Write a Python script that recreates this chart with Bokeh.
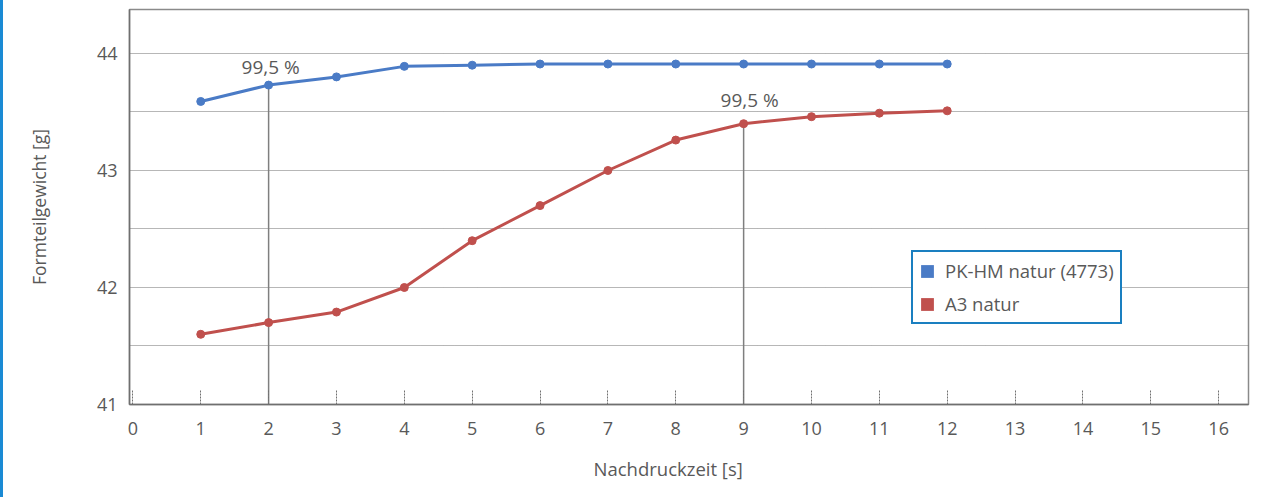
from bokeh.plotting import figure
from bokeh.models import Range1d, FixedTicker, ColumnDataSource, Legend, LegendItem, Title
from bokeh.embed import file_html
from bokeh.resources import INLINE
from bokeh.core.properties import value

# data
zeit = [1, 2, 3, 4, 5, 6, 7, 8, 9, 10, 11, 12]
pk_hm = [43.59, 43.73, 43.80, 43.89, 43.90, 43.91, 43.91, 43.91, 43.91, 43.91, 43.91, 43.91]
a3 = [41.60, 41.70, 41.79, 42.00, 42.40, 42.70, 43.00, 43.26, 43.40, 43.46, 43.49, 43.51]
series_names = ["PK-HM natur (4773)", "A3 natur"]
x_ticks = list(range(0, 17))
y_ticks = [41, 42, 43, 44]
y_minor = [41.5, 42.5, 43.5]
mark_x = [2, 9]
mark_y = [pk_hm[1], a3[8]]
mark_text = ["99,5 %", "99,5 %"]
x_title = "Nachdruckzeit [s]"
y_title = "Formteilgewicht [g]"

FONT = "Open Sans"
TXT = "#595959"
BLUE = "#4a7bc6"
RED = "#c0504d"

p = figure(width=1275, height=497, output_backend="svg", toolbar_location=None,
           x_range=Range1d(-0.05, 16.44), y_range=Range1d(41, 44.376),
           min_border_left=126, min_border_right=30, min_border_top=9, min_border_bottom=92)
p.styles = {"border-left": "3px solid #1a8ad4"}
p.background_fill_color = "white"
p.border_fill_color = "white"
p.outline_line_color = "#8a8a8a"
p.outline_line_width = 1.5

# grid
p.xgrid.visible = False
p.ygrid.ticker = FixedTicker(ticks=y_ticks, minor_ticks=y_minor)
p.ygrid.grid_line_color = "#6e6e6e"
p.ygrid.grid_line_dash = "1 1"
p.ygrid.grid_line_width = 1
p.ygrid.minor_grid_line_color = "#6e6e6e"
p.ygrid.minor_grid_line_dash = "1 1"
p.ygrid.minor_grid_line_width = 1

# axes
p.xaxis.ticker = FixedTicker(ticks=x_ticks)
p.yaxis.ticker = FixedTicker(ticks=y_ticks)
for ax in (p.xaxis[0], p.yaxis[0]):
    ax.axis_line_color = "#6f6f6f"
    ax.axis_line_width = 1.5
    ax.major_label_text_font = FONT
    ax.major_label_text_font_size = "18px"
    ax.major_label_text_color = TXT
    ax.axis_label_text_font = FONT
    ax.axis_label_text_font_size = "17.5px"
    ax.axis_label_text_font_style = "normal"
    ax.axis_label_text_color = TXT
    ax.minor_tick_line_color = None
p.xaxis.major_tick_in = 15
p.xaxis.major_tick_out = 0
p.xaxis.major_tick_line_color = "#707070"
p.xaxis.major_tick_line_dash = "2 1"
p.xaxis.major_tick_line_width = 1
p.xaxis.major_label_standoff = 17
p.yaxis.major_tick_in = 0
p.yaxis.major_tick_out = 0
p.yaxis.major_label_standoff = 12
p.yaxis.axis_label = y_title
p.yaxis.axis_label_standoff = 43

# x axis title below the axis, a little left of the frame centre as in the reference
xt = Title(text=x_title, align="left", offset=464, standoff=33,
           text_font=FONT, text_font_size="18.5px", text_font_style="normal",
           text_color=TXT)
p.add_layout(xt, "below")

# vertical markers
p.segment(x0=mark_x, y0=[41, 41], x1=mark_x, y1=mark_y, line_color="#7f7f7f", line_width=1.5)

# series
p.line(zeit, pk_hm, line_color=BLUE, line_width=3)
p.scatter(zeit, pk_hm, size=8, fill_color=BLUE, line_color=BLUE)
p.line(zeit, a3, line_color=RED, line_width=3)
p.scatter(zeit, a3, size=8, fill_color=RED, line_color=RED)

# labels
src = ColumnDataSource(dict(x=mark_x, y=mark_y, t=mark_text, yo=[-5, -11], xo=[2, 6]))
p.text(x="x", y="y", text="t", x_offset="xo", y_offset="yo", source=src, text_align="center",
       text_baseline="bottom", text_font=value(FONT), text_font_size="19px", text_color=TXT)

# legend (swatches placed outside visible range)
lb = p.quad(left=[-100], right=[-99], bottom=[0], top=[1], fill_color=BLUE, line_color=None)
lr = p.quad(left=[-100], right=[-99], bottom=[0], top=[1], fill_color=RED, line_color=None)
legend = Legend(items=[LegendItem(label=series_names[0], renderers=[lb]),
                       LegendItem(label=series_names[1], renderers=[lr])],
                location=(782, 80), orientation="vertical")
legend.border_line_color = "#1a7fc0"
legend.border_line_alpha = 1
legend.border_line_width = 2.5
legend.background_fill_color = "white"
legend.background_fill_alpha = 1
legend.label_text_font = FONT
legend.label_text_font_size = "18.5px"
legend.label_text_color = TXT
legend.glyph_width = 16
legend.glyph_height = 16
legend.label_standoff = 10
legend.spacing = 8
legend.padding = 6
legend.label_height = 21
legend.margin = 0
p.add_layout(legend, "center")

open("out.html", "w").write(file_html(p, INLINE))
